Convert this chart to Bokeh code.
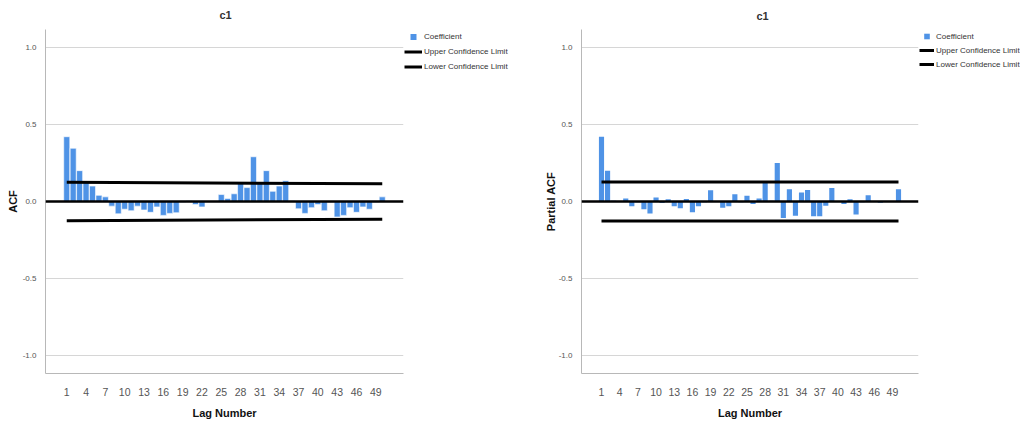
from bokeh.plotting import figure
from bokeh.layouts import row
from bokeh.models import (FixedTicker, Legend, LegendItem, Range1d, Span,
                          PrintfTickFormatter)
from bokeh.embed import file_html
from bokeh.resources import INLINE

# ---------------- data ----------------
lags = list(range(1, 51))

acf = [0.42, 0.345, 0.20, 0.13, 0.10, 0.04, 0.03, -0.03, -0.08, -0.05,
       -0.06, -0.03, -0.055, -0.07, -0.035, -0.09, -0.077, -0.073, -0.005, 0.005,
       -0.02, -0.035, 0.003, -0.003, 0.045, 0.02, 0.05, 0.12, 0.09, 0.29,
       0.12, 0.20, 0.066, 0.10, 0.135, 0.005, -0.047, -0.077, -0.04, -0.02,
       -0.06, -0.005, -0.10, -0.09, -0.04, -0.07, -0.035, -0.05, -0.005, 0.03]

pacf = [0.42, 0.20, 0.005, -0.003, 0.02, -0.03, -0.005, -0.05, -0.077, 0.026,
        -0.01, 0.015, -0.03, -0.043, 0.017, -0.07, -0.03, -0.005, 0.073, 0.003,
        -0.04, -0.03, 0.047, -0.005, 0.037, -0.017, 0.02, 0.12, 0.005, 0.25,
        -0.107, 0.079, -0.092, 0.058, 0.075, -0.096, -0.096, -0.028, 0.088, -0.003,
        -0.017, 0.015, -0.085, -0.005, 0.04, 0.003, -0.008, 0.003, -0.003, 0.079]

limit_lags = [1, 50]
acf_upper = [0.124, 0.115]
acf_lower = [-0.124, -0.115]
pacf_upper = [0.126, 0.126]
pacf_lower = [-0.126, -0.126]

x_ticks = [1, 4, 7, 10, 13, 16, 19, 22, 25, 28, 31, 34, 37, 40, 43, 46, 49]
y_ticks = [-1.0, -0.5, 0.0, 0.5, 1.0]
grid_ticks = [-1.0, -0.5, 0.5, 1.0]

chart_title = "c1"
x_title = "Lag Number"
legend_labels = ["Coefficient", "Upper Confidence Limit", "Lower Confidence Limit"]

BAR_COLOR = "#4F93E6"
SANS = "Liberation Sans"
H = 424


def make_chart(values, upper, lower, ylabel, width, mb_left, mb_top, mb_bottom,
               bar_width, bar_line, title_offset, title_standoff, ylabel_standoff):
    p = figure(width=width, height=H, output_backend="svg",
               toolbar_location=None,
               x_range=Range1d(-2.3, 53.3), y_range=Range1d(-1.115, 1.115),
               min_border_left=mb_left, min_border_right=1,
               min_border_top=mb_top, min_border_bottom=mb_bottom)
    p.outline_line_color = None
    p.background_fill_color = "white"
    p.border_fill_color = "white"

    p.title.text = chart_title
    p.title.align = "left"
    p.title.vertical_align = "middle"
    p.title.offset = title_offset
    p.title.text_font = SANS
    p.title.text_font_size = "11px"
    p.title.text_font_style = "bold"
    p.title.text_color = "#333333"
    p.title.standoff = title_standoff

    p.xgrid.visible = False
    p.ygrid.ticker = FixedTicker(ticks=grid_ticks)
    p.ygrid.grid_line_color = "#d6d6d6"
    p.ygrid.grid_line_width = 1

    for ax in (p.xaxis[0], p.yaxis[0]):
        ax.axis_line_color = "#b8b8b8"
        ax.axis_line_width = 1
        ax.major_tick_line_color = None
        ax.minor_tick_line_color = None
        ax.major_label_text_color = "#555555"
        ax.major_label_text_font = SANS
        ax.axis_label_text_font = SANS
        ax.axis_label_text_font_style = "bold"
        ax.axis_label_text_font_size = "11px"
        ax.axis_label_text_color = "#111111"

    p.xaxis.ticker = FixedTicker(ticks=x_ticks)
    p.xaxis.major_label_text_font_size = "10.5px"
    p.xaxis.major_label_standoff = 8
    p.xaxis.axis_label = x_title
    p.xaxis.axis_label_standoff = 8

    p.yaxis.ticker = FixedTicker(ticks=y_ticks)
    p.yaxis.formatter = PrintfTickFormatter(format="%.1f")
    p.yaxis.major_label_text_font_size = "8px"
    p.yaxis.major_label_standoff = 3
    p.yaxis.axis_label = ylabel
    p.yaxis.axis_label_standoff = ylabel_standoff

    p.vbar(x=lags, top=values, bottom=0, width=bar_width,
           fill_color=BAR_COLOR, line_color=bar_line,
           line_width=0.6 if bar_line else 0)

    p.add_layout(Span(location=0, dimension="width", line_color="black",
                      line_width=2.6))

    p.line(x=limit_lags, y=upper, line_color="black", line_width=3)
    p.line(x=limit_lags, y=lower, line_color="black", line_width=3)
    return p


def make_legend(width, top, glyph_w, glyph_h, values, upper, lower):
    # legend-only panel; its proxy renderers reuse the chart data but lie
    # outside this panel's ranges, so only the legend entries are visible
    q = figure(width=width, height=H, output_backend="svg", toolbar_location=None,
               x_range=Range1d(100, 101), y_range=Range1d(100, 101),
               min_border_left=0, min_border_right=0,
               min_border_top=top, min_border_bottom=0)
    q.axis.visible = False
    q.grid.visible = False
    q.outline_line_color = None
    sq = q.scatter(x=lags, y=values, marker="square", fill_color=BAR_COLOR,
                   line_color=None)
    ln_up = q.line(x=limit_lags, y=upper, line_color="black", line_width=3)
    ln_lo = q.line(x=limit_lags, y=lower, line_color="black", line_width=3)
    legend = Legend(items=[LegendItem(label=legend_labels[0], renderers=[sq]),
                           LegendItem(label=legend_labels[1], renderers=[ln_up]),
                           LegendItem(label=legend_labels[2], renderers=[ln_lo])],
                    location="top_left", orientation="vertical",
                    glyph_width=glyph_w, glyph_height=glyph_h,
                    label_height=glyph_h, spacing=0, padding=0, margin=0,
                    label_standoff=2,
                    label_text_font=SANS, label_text_font_size="8px",
                    label_text_color="#333333",
                    border_line_alpha=0, background_fill_alpha=0)
    q.add_layout(legend)
    return q


p1 = make_chart(acf, acf_upper, acf_lower, "ACF", width=404,
                mb_left=45, mb_top=28, mb_bottom=49,
                bar_width=0.94, bar_line="white", title_offset=174,
                title_standoff=15, ylabel_standoff=1)
l1 = make_legend(136, 29, 18, 15, acf, acf_upper, acf_lower)

p2 = make_chart(pacf, pacf_upper, pacf_lower, "Partial ACF", width=379,
                mb_left=41, mb_top=26, mb_bottom=51,
                bar_width=0.85, bar_line=None, title_offset=175,
                title_standoff=13, ylabel_standoff=-1)
l2 = make_legend(101, 28, 15, 14, pacf, pacf_upper, pacf_lower)

layout = row(p1, l1, p2, l2, spacing=0)

open("out.html", "w").write(file_html(layout, INLINE))
